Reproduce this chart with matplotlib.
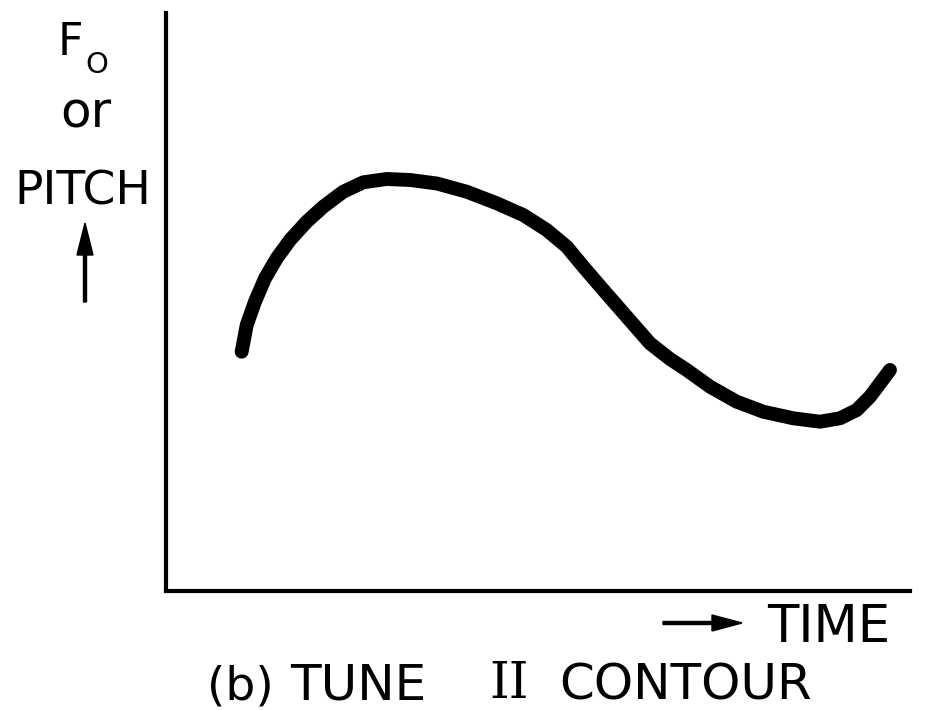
import matplotlib.pyplot as plt
from matplotlib.patches import FancyArrow

# pitch contour (time and F0 in arbitrary units, 0-100)
time = [10.17, 10.85, 11.96, 13.31, 14.88, 16.67, 18.91, 21.14, 23.83, 26.52,
        29.66, 32.80, 36.42, 40.42, 44.45, 48.02, 51.17, 53.86, 56.09, 58.78,
        61.92, 65.05, 67.74, 69.99, 73.12, 76.71, 80.28, 84.31, 87.90, 90.59,
        92.84, 94.62, 95.97, 97.31]
pitch = [41.40, 46.02, 50.05, 54.10, 57.56, 60.73, 63.89, 66.49, 69.08, 70.71,
         71.28, 71.11, 70.50, 69.08, 67.08, 65.05, 62.46, 59.57, 56.11, 52.08,
         47.46, 42.85, 40.14, 38.24, 35.35, 32.75, 31.02, 29.88, 29.29, 29.88,
         31.31, 33.62, 35.93, 38.24]

W, H = 925, 710


def px(x, y):
    # pixel position -> figure fraction
    return x / W, 1 - y / H


fig = plt.figure(figsize=(9.25, 7.1), dpi=100)
ax = fig.add_axes([166 / W, 1 - 591 / H, (910 - 166) / W, (591 - 13) / H])
ax.plot(time, pitch, color='black', lw=10, solid_capstyle='round', solid_joinstyle='round')
ax.set_xlim(0, 100)
ax.set_ylim(0, 100)
ax.set_xticks([])
ax.set_yticks([])
for s in ['top', 'right']:
    ax.spines[s].set_visible(False)
for s in ['left', 'bottom']:
    ax.spines[s].set_linewidth(3)

# y label
fig.text(*px(58, 55), 'F', fontsize=32, va='baseline', ha='left')
fig.text(*px(85, 73), 'O', fontsize=21, va='baseline', ha='left')
fig.text(*px(86, 128), 'or', fontsize=36, va='baseline', ha='center')
fig.text(*px(83, 204), 'PITCH', fontsize=34, va='baseline', ha='center')
fig.patches.append(FancyArrow(
    *px(85, 302), 0, 79 / H, width=3 / W, head_width=16 / W, head_length=32 / H,
    length_includes_head=True, color='black', transform=fig.transFigure, figure=fig))

# x label
fig.text(*px(890, 642), 'TIME', fontsize=37, va='baseline', ha='right')
fig.patches.append(FancyArrow(
    *px(663, 623), 79 / W, 0, width=3 / H, head_width=16 / H, head_length=30 / W,
    length_includes_head=True, color='black', transform=fig.transFigure, figure=fig))

# caption
fig.text(*px(240, 709), '(b)', fontsize=34, va='bottom', ha='center')
fig.text(*px(358, 709), 'TUNE', fontsize=36, va='bottom', ha='center')
fig.text(*px(509, 709), 'II', fontsize=36, va='bottom', ha='center',
         family='DejaVu Serif')
fig.text(*px(686, 709), 'CONTOUR', fontsize=36, va='bottom', ha='center')

fig.savefig('out.png', dpi=100)
